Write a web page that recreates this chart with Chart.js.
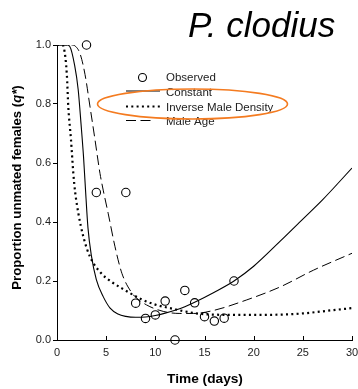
<!DOCTYPE html>
<html>
<head>
<meta charset="utf-8">
<script src="https://cdn.jsdelivr.net/npm/chart.js@4/dist/chart.umd.min.js"></script>
<style>
  html, body { margin: 0; padding: 0; background: #fff; }
  canvas { display: block; }
</style>
</head>
<body>
<canvas id="chart" width="358" height="389"></canvas>
<script>
// observed proportion of unmated females
const obsDays = [3, 4, 7, 8, 9, 10, 11, 12, 13, 14, 15, 16, 17, 18];
const obsProp = [1.0, 0.5, 0.5, 0.125, 0.073, 0.085, 0.132, 0.0, 0.168, 0.126, 0.079, 0.064, 0.074, 0.2];

// model fits
const constDays = [0, 1, 1.3, 1.8, 2.15, 2.45, 2.7, 2.88, 3.15, 3.5, 4.0, 4.7, 5.4, 6.2, 7, 8, 9, 10, 11, 12, 13, 14, 16, 18, 20, 22.7, 25, 27, 30];
const constProp = [1.0, 1.0, 0.995, 0.93, 0.85, 0.73, 0.62, 0.52, 0.38, 0.285, 0.205, 0.147, 0.108, 0.088, 0.08, 0.077, 0.078, 0.083, 0.091, 0.101, 0.113, 0.128, 0.162, 0.2, 0.25, 0.335, 0.41, 0.475, 0.583];

const invDays = [0, 0.5, 0.7, 1.0, 1.15, 1.42, 1.66, 1.85, 2.17, 2.68, 3.36, 4.5, 5.5, 6.6, 8.6, 10, 11.9, 13, 14.5, 16, 18, 20, 22.7, 25, 26.7, 28, 30];
const invProp = [1.0, 1.0, 0.99, 0.9, 0.79, 0.68, 0.565, 0.5, 0.43, 0.35, 0.282, 0.226, 0.198, 0.175, 0.138, 0.12, 0.105, 0.097, 0.089, 0.086, 0.085, 0.085, 0.086, 0.09, 0.096, 0.101, 0.108];

const ageDays = [0, 1.5, 1.9, 2.35, 2.85, 3.36, 3.86, 4.37, 4.7, 5.2, 5.9, 6.6, 7.6, 8, 9.1, 10.8, 12.5, 13.9, 15.9, 19.3, 22.7, 26.1, 30];
const ageProp = [1.0, 1.0, 0.995, 0.97, 0.9, 0.79, 0.68, 0.565, 0.508, 0.43, 0.316, 0.226, 0.16, 0.145, 0.119, 0.097, 0.09, 0.09, 0.1, 0.136, 0.18, 0.237, 0.294];

const xTicks = [0, 5, 10, 15, 20, 25, 30];
const yTicks = [0, 0.2, 0.4, 0.6, 0.8, 1.0];

const FONT = '"Liberation Sans", Arial, sans-serif';
const toPts = (xs, ys) => xs.map((x, i) => ({ x: x, y: ys[i] }));

const lineStyles = {
  constant: { dash: [], width: 1.1 },
  inverse: { dash: [2, 3.3], width: 2.2 },
  age: { dash: [10, 4.5], width: 1 }
};

const decor = {
  id: 'decor',
  afterDraw(chart) {
    const ctx = chart.ctx;
    const xs = chart.scales.x;
    const area = chart.chartArea;
    ctx.save();

    // inward x ticks
    ctx.strokeStyle = '#000';
    ctx.lineWidth = 1;
    xTicks.forEach(v => {
      const px = Math.round(xs.getPixelForValue(v)) + 0.5;
      ctx.beginPath();
      ctx.moveTo(px, area.bottom);
      ctx.lineTo(px, area.bottom - 4);
      ctx.stroke();
    });

    // title
    ctx.fillStyle = '#000';
    ctx.font = 'italic 35px ' + FONT;
    ctx.textAlign = 'left';
    ctx.textBaseline = 'alphabetic';
    ctx.fillText('P. clodius', 188, 37);

    // x axis title
    ctx.font = 'bold 13.7px ' + FONT;
    ctx.textAlign = 'center';
    ctx.textBaseline = 'middle';
    ctx.fillText('Time (days)', 205, 379);

    // y axis title with italic q*
    ctx.translate(17, 187.5);
    ctx.rotate(-Math.PI / 2);
    const partA = 'Proportion unmated females (';
    const partB = 'q*';
    const partC = ')';
    const fB = 'bold 13.2px ' + FONT;
    const fI = 'italic bold 13.2px ' + FONT;
    ctx.font = fB;
    const wA = ctx.measureText(partA).width;
    const wC = ctx.measureText(partC).width;
    ctx.font = fI;
    const wB = ctx.measureText(partB).width;
    let cx = -(wA + wB + wC) / 2;
    ctx.textAlign = 'left';
    ctx.font = fB;
    ctx.fillText(partA, cx, 0);
    cx += wA;
    ctx.font = fI;
    ctx.fillText(partB, cx, 0);
    cx += wB;
    ctx.font = fB;
    ctx.fillText(partC, cx, 0);
    ctx.setTransform(1, 0, 0, 1, 0, 0);

    // legend
    ctx.font = '11.5px ' + FONT;
    ctx.fillStyle = '#222';
    ctx.textAlign = 'left';
    ctx.textBaseline = 'middle';
    ctx.strokeStyle = '#000';
    ctx.lineWidth = 1.1;
    ctx.beginPath();
    ctx.arc(142.5, 77.5, 4, 0, Math.PI * 2);
    ctx.stroke();
    ctx.fillText('Observed', 166, 78);

    const rows = [
      { label: 'Constant', style: lineStyles.constant, y: 91, x2: 160 },
      { label: 'Inverse Male Density', style: lineStyles.inverse, y: 106.5, x2: 160 },
      { label: 'Male Age', style: lineStyles.age, y: 120.5, x2: 154 }
    ];
    rows.forEach(r => {
      ctx.setLineDash(r.style.dash);
      ctx.lineWidth = r.style.width;
      ctx.beginPath();
      ctx.moveTo(126, r.y);
      ctx.lineTo(r.x2, r.y);
      ctx.stroke();
      ctx.setLineDash([]);
      ctx.fillText(r.label, 166, r.y + 1.5);
    });

    // orange highlight ellipse
    ctx.strokeStyle = '#f47b20';
    ctx.lineWidth = 1.6;
    ctx.beginPath();
    ctx.ellipse(192.5, 104, 95, 15, 0, 0, Math.PI * 2);
    ctx.stroke();
    ctx.restore();
  }
};

new Chart(document.getElementById('chart'), {
  type: 'line',
  data: {
    datasets: [
      {
        label: 'Constant',
        data: toPts(constDays, constProp),
        borderColor: '#000',
        borderWidth: lineStyles.constant.width,
        pointRadius: 0,
        cubicInterpolationMode: 'monotone',
        fill: false
      },
      {
        label: 'Inverse Male Density',
        data: toPts(invDays, invProp),
        borderColor: '#000',
        borderWidth: lineStyles.inverse.width,
        borderDash: lineStyles.inverse.dash,
        pointRadius: 0,
        cubicInterpolationMode: 'monotone',
        fill: false
      },
      {
        label: 'Male Age',
        data: toPts(ageDays, ageProp),
        borderColor: '#000',
        borderWidth: lineStyles.age.width,
        borderDash: lineStyles.age.dash,
        pointRadius: 0,
        cubicInterpolationMode: 'monotone',
        fill: false
      },
      {
        label: 'Observed',
        data: toPts(obsDays, obsProp),
        showLine: false,
        pointStyle: 'circle',
        pointRadius: 4.2,
        pointBorderWidth: 1.1,
        pointBorderColor: '#000',
        pointBackgroundColor: 'rgba(0,0,0,0)',
        clip: false
      }
    ]
  },
  options: {
    responsive: false,
    animation: false,
    layout: { padding: { top: 45, right: 6, left: 0, bottom: 0 } },
    plugins: {
      legend: { display: false },
      title: { display: false },
      tooltip: { enabled: false }
    },
    scales: {
      x: {
        type: 'linear',
        min: 0,
        max: 30,
        afterBuildTicks: s => { s.ticks = xTicks.map(v => ({ value: v })); },
        afterFit: s => { s.height = 49; s.paddingLeft = 0; s.paddingRight = 0; },
        border: { display: true, color: '#000', width: 1 },
        grid: { display: false, drawTicks: false },
        ticks: {
          padding: 6,
          maxRotation: 0,
          color: '#222',
          font: { family: FONT, size: 11 },
          callback: v => String(v)
        }
      },
      y: {
        type: 'linear',
        min: 0,
        max: 1,
        afterBuildTicks: s => { s.ticks = yTicks.map(v => ({ value: v })); },
        afterFit: s => { s.width = 57; s.paddingTop = 0; s.paddingBottom = 0; },
        border: { display: true, color: '#000', width: 1 },
        grid: { drawOnChartArea: false, drawTicks: true, tickLength: 4, color: '#000' },
        ticks: {
          padding: 2,
          color: '#222',
          font: { family: FONT, size: 11 },
          callback: v => Number(v).toFixed(1)
        }
      }
    }
  },
  plugins: [decor]
});
</script>
</body>
</html>
